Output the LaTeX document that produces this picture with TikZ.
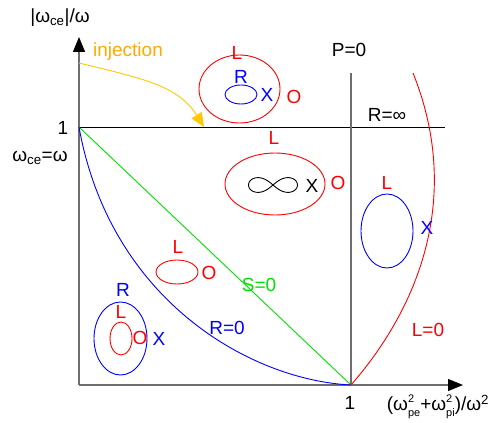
\documentclass[tikz,border=0pt]{standalone}
\usepackage{fontspec}
\setmainfont{Liberation Sans}
\usetikzlibrary{arrows.meta}

\definecolor{axisgray}{RGB}{110,110,110}
\definecolor{injorange}{RGB}{255,170,0}
\definecolor{injgold}{RGB}{255,200,0}
\definecolor{sgreen}{RGB}{0,225,0}

% stacked sub- and superscript in text
\newcommand\subsup[2]{\makebox[0pt][l]{\raisebox{0.8ex}{\fontsize{11}{11}\selectfont #2}}\raisebox{-0.55ex}{\fontsize{11}{11}\selectfont #1}}

\begin{document}
\begin{tikzpicture}[x=1pt,y=-1pt,
    every node/.style={font=\fontsize{19}{22}\selectfont, inner sep=0pt},
    curve/.style={line width=0.9pt},
    axis/.style={line width=1.2pt, axisgray, -{Triangle[length=15pt,width=12pt,black]}}]
    \useasboundingbox (0,0) rectangle (502,422);

    %----------------------------------------
    % AXES (origin at (79,385))
    %----------------------------------------
    \coordinate (origin) at (79,385);
    \coordinate (ytip) at (79,37);
    \coordinate (xtip) at (463,385);
    \coordinate (one) at (79,127);
    \coordinate (cut) at (351,385);

    \draw[axis] (origin) -- (ytip);
    \draw[axis] (origin) -- (xtip);

    % R = infinity and P = 0
    \coordinate (rinf) at (445,127);
    \coordinate (ptop) at (351,73);
    \draw[curve, black] (one) -- (rinf);
    \draw[line width=1.2pt, axisgray] (cut) -- (ptop);

    \node (ylab)  at (60,18)  {|ω\textsubscript{ce}|/ω};
    \node (yone)  at (63,128) {1};
    \node (yeq)   at (40,158) {ω\textsubscript{ce}=ω};
    \node (xone)  at (350,403) {1};
    \node (xlab)  at (438,407) {(ω\subsup{pe}{2}+ω\subsup{pi}{2})/ω\textsuperscript{2}};
    \node (plab)  at (349,50) {P=0};
    \node (rlab)  at (387,115) {R=∞};

    %----------------------------------------
    % CUT-OFF AND RESONANCE CURVES
    %----------------------------------------
    \coordinate (ltop) at (413,73);
    \draw[curve, sgreen] (one) -- (cut);
    \draw[curve, blue] (one) .. controls (110,300) and (250,380) .. (cut);
    \draw[curve, red] (cut) .. controls (425,300) and (460,190) .. (ltop);

    \node[sgreen] (slab) at (259,285) {S=0};
    \node[blue]   (r0)   at (227,328) {R=0};
    \node[red]    (l0)   at (428,330) {L=0};

    %----------------------------------------
    % INJECTION
    %----------------------------------------
    \coordinate (injstart) at (79,63);
    \coordinate (injend) at (204,127);
    \node[injorange] (inj) at (128,52) {injection};
    \draw[curve, injgold, -{Triangle[length=14pt,width=12pt]}]
        (injstart) .. controls (140,78) and (178,85) .. (injend);

    %----------------------------------------
    % WAVE-NORMAL SURFACES
    %----------------------------------------
    % top
    \draw[curve, red]  (239.5,89) ellipse [x radius=40.5, y radius=34];
    \draw[curve, blue] (241,94.5) ellipse [x radius=16, y radius=9.5];
    \node[red]  (tl) at (237,53) {L};
    \node[blue] (tr) at (241,77) {R};
    \node[blue] (tx) at (267,95) {X};
    \node[red]  (to) at (294,97) {O};

    % middle
    \draw[curve, red] (275,184) ellipse [x radius=50, y radius=31];
    \draw[curve, black, shift={(273,185)}]
        plot[smooth, domain=0:360, samples=80]
        ({24.5*cos(\x)/(1+sin(\x)^2)}, {0.85*24.5*sin(\x)*cos(\x)/(1+sin(\x)^2)});
    \node[red]   (ml) at (274,138) {L};
    \node[black] (mx) at (312,186) {X};
    \node[red]   (mo) at (338,183) {O};

    % right
    \draw[curve, blue] (387,231) ellipse [x radius=26, y radius=37];
    \node[red]  (rl) at (387,183) {L};
    \node[blue] (rx) at (427,228) {X};

    % small
    \draw[curve, red] (177,272) ellipse [x radius=21, y radius=12];
    \node[red] (sl) at (178,247) {L};
    \node[red] (so) at (209,273) {O};

    % bottom left
    \draw[curve, blue] (120.5,338.5) ellipse [x radius=26.5, y radius=36.5];
    \draw[curve, red]  (121,338.5) ellipse [x radius=11, y radius=16.5];
    \node[blue] (br) at (123,290) {R};
    \node[red]  (bl) at (121,312) {L};
    \node[red]  (bo) at (140,338) {O};
    \node[blue] (bx) at (159,339) {X};

\end{tikzpicture}
\end{document}
